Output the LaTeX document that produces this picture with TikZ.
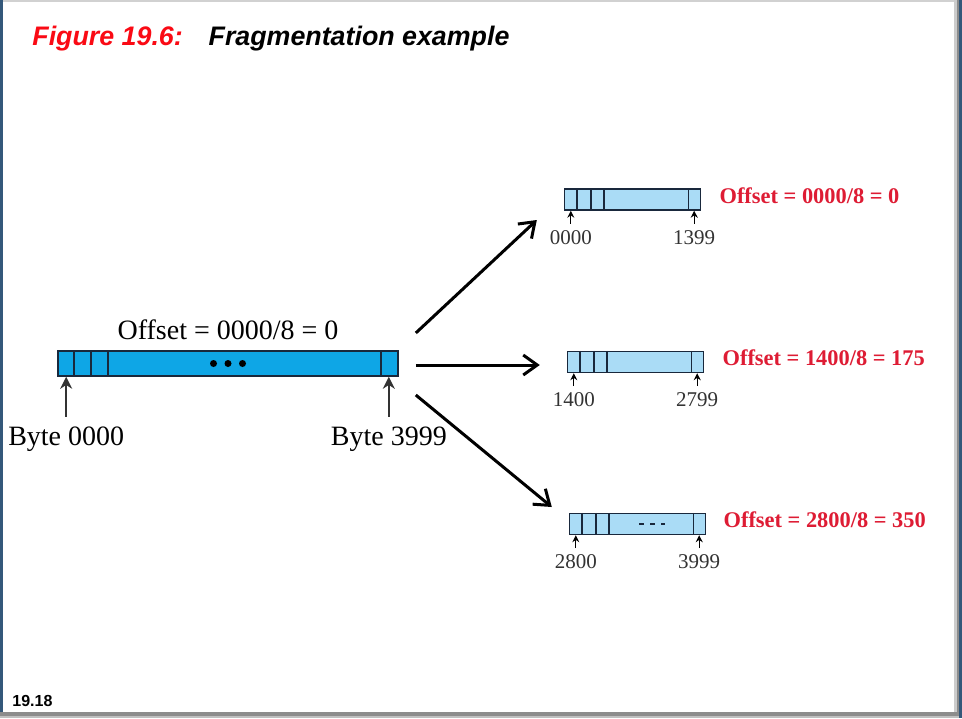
\documentclass[tikz,border=0pt]{standalone}
\usepackage{fontspec}
\setmainfont{Liberation Serif}
\newfontfamily\slidefont{Liberation Sans}
\usetikzlibrary{arrows.meta, positioning}
\definecolor{pktblue}{RGB}{14,166,230}
\definecolor{fragblue}{RGB}{170,220,246}
\definecolor{boxline}{RGB}{25,40,60}
\definecolor{offred}{RGB}{222,28,52}
\definecolor{titlered}{RGB}{250,10,20}
\definecolor{edgeblue}{RGB}{52,88,122}
\tikzset{
  pktbox/.style={
    draw=boxline, fill=pktblue, rectangle, minimum width=170pt,
    minimum height=12.5pt, inner sep=0pt, line width=0.8pt
  },
  fragbox/.style={
    draw=boxline, fill=fragblue, rectangle, minimum width=68pt,
    minimum height=10.5pt, inner sep=0pt, line width=0.7pt
  },
  bytelabel/.style={
    font=\fontsize{14}{16}\selectfont, inner sep=0pt
  },
  numlabel/.style={
    font=\fontsize{10.5}{12}\selectfont, inner sep=0pt, text=black!80
  },
  offlabel/.style={
    font=\fontsize{11.2}{13}\selectfont\bfseries, text=offred, inner sep=0pt
  },
  titletext/.style={
    font=\slidefont\fontsize{13.4}{15}\selectfont\bfseries\itshape, inner sep=0pt
  },
  bigarrow/.style={
    -{Straight Barb[length=7pt,width=10pt]}, line width=1.5pt
  },
  byteptr/.style={
    -{Stealth[length=6pt,width=6pt]}, line width=0.9pt, black!80
  },
  smallptr/.style={
    -{Stealth[length=3.5pt,width=3.5pt]}, line width=0.6pt
  },
}

\begin{document}
\begin{tikzpicture}[x=0.5pt, y=-0.5pt]
  \useasboundingbox (0,0) rectangle (962,718);

  %%% Slide frame %%%
  \fill[white] (0,0) rectangle (962,718);
  \fill[black!18] (0,0) rectangle (962,2);
  \fill[edgeblue] (0,0) rectangle (3,718);
  \fill[black!20] (954,0) rectangle (957,718);
  \fill[black!45] (957,0) rectangle (959,718);
  \fill[edgeblue] (959,0) rectangle (962,718);
  \fill[black!45] (0,712) rectangle (959,716);
  \fill[black!25] (0,716) rectangle (959,718);

  %%% Title %%%
  \node[titletext, text=titlered, anchor=base west] (figlbl) at (32,45)
    {Figure 19.6:};
  \node[titletext, anchor=base west] (figname) at ([xshift=12.5pt]figlbl.base east)
    {Fragmentation example};

  %%% Original datagram %%%
  \node[pktbox] (main) at (228,363.5) {};
  \draw[boxline, line width=0.9pt]
    ([xshift=8.5pt]main.north west) -- ([xshift=8.5pt]main.south west)
    ([xshift=17pt]main.north west) -- ([xshift=17pt]main.south west)
    ([xshift=25.5pt]main.north west) -- ([xshift=25.5pt]main.south west)
    ([xshift=-9pt]main.north east) -- ([xshift=-9pt]main.south east);
  \fill ([xshift=-7.25pt]main.center) circle (1.75pt)
        (main.center) circle (1.75pt)
        ([xshift=7.25pt]main.center) circle (1.75pt);

  \node[bytelabel, above=5pt of main] (mainoff) {Offset = 0000/8 = 0};

  \coordinate (firstbyte) at ([xshift=4.5pt,yshift=-20pt]main.south west);
  \coordinate (lastbyte) at ([xshift=-5pt,yshift=-20pt]main.south east);
  \draw[byteptr] (firstbyte) -- (firstbyte |- main.south);
  \draw[byteptr] (lastbyte) -- (lastbyte |- main.south);
  \node[bytelabel, below=5pt of firstbyte] (byte0) {Byte 0000};
  \node[bytelabel, below=5pt of lastbyte] (byte3999) {Byte 3999};

  %%% Fragments %%%
  \node[fragbox] (f1) at (632.5,199.5) {};
  \node[fragbox] (f2) at (635.5,362) {};
  \node[fragbox] (f3) at (637.5,524) {};

  \foreach \f in {f1,f2,f3}{
    \draw[boxline, line width=0.7pt]
      ([xshift=6.5pt]\f.north west) -- ([xshift=6.5pt]\f.south west)
      ([xshift=13.5pt]\f.north west) -- ([xshift=13.5pt]\f.south west)
      ([xshift=20pt]\f.north west) -- ([xshift=20pt]\f.south west)
      ([xshift=-6.5pt]\f.north east) -- ([xshift=-6.5pt]\f.south east);
    \coordinate (\f first) at ([xshift=3.5pt,yshift=-6.5pt]\f.south west);
    \coordinate (\f last) at ([xshift=-3.5pt,yshift=-6.5pt]\f.south east);
    \draw[smallptr] (\f first) -- (\f first |- \f.south);
    \draw[smallptr] (\f last) -- (\f last |- \f.south);
  }
  \draw[boxline, line width=1.1pt, dash pattern=on 2.5pt off 3pt]
    ([xshift=0.75pt]f3.center) -- ([xshift=13.75pt]f3.center);

  \node[numlabel, below=3pt of f1first] {0000};
  \node[numlabel, below=3pt of f1last] {1399};
  \node[numlabel, below=3pt of f2first] {1400};
  \node[numlabel, below=3pt of f2last] {2799};
  \node[numlabel, below=3pt of f3first] {2800};
  \node[numlabel, below=3pt of f3last] {3999};

  \node[offlabel, right=9pt of f1, yshift=2pt] (off1) {Offset = 0000/8 = 0};
  \node[offlabel, right=9pt of f2, yshift=2pt] (off2) {Offset = 1400/8 = 175};
  \node[offlabel, right=8.5pt of f3, yshift=2pt] (off3) {Offset = 2800/8 = 350};

  %%% Arrows: datagram -> fragments %%%
  \draw[bigarrow] ([xshift=8.5pt,yshift=15.25pt]main.east)
    -- ([xshift=-13.5pt,yshift=-10.25pt]f1.west);
  \draw[bigarrow] ([xshift=8.5pt,yshift=-0.75pt]main.east)
    -- ([xshift=-13.5pt,yshift=-1.5pt]f2.west);
  \draw[bigarrow] ([xshift=8.5pt,yshift=-15.75pt]main.east)
    -- ([xshift=-8.5pt,yshift=8.5pt]f3.west);

  %%% Slide number %%%
  \node[font=\slidefont\fontsize{8}{9}\selectfont\bfseries, inner sep=0pt,
        anchor=base west] (slideno) at (12,706) {19.18};

\end{tikzpicture}
\end{document}
